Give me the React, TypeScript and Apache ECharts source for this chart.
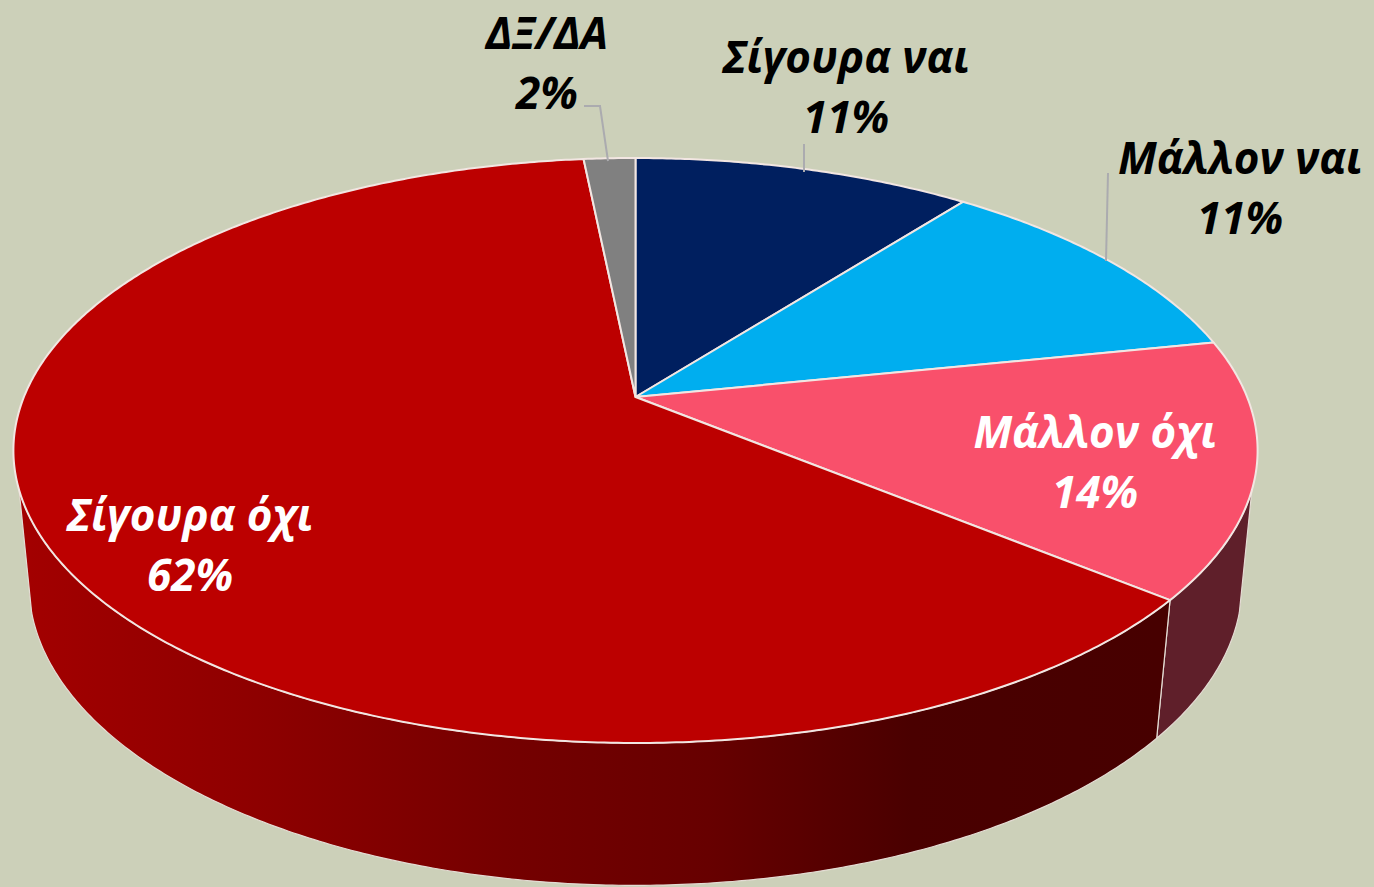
import React, { useEffect, useRef } from "react";
import * as echarts from "echarts";

const CATEGORIES = ["Σίγουρα ναι", "Μάλλον ναι", "Μάλλον όχι", "Σίγουρα όχι", "ΔΞ/ΔΑ"];
const VALUES = [10.5, 11.3, 14.15, 62.45, 1.6];
const TOP_COLORS = ["#001F5F", "#00AEEF", "#F9506B", "#BC0000", "#808080"];
const WALL_COLORS = ["#00103a", "#006f99", "#5F1F2A", "", "#4d4d4d"];
const LABEL_COLORS = ["#000000", "#000000", "#ffffff", "#ffffff", "#000000"];
const LABEL_POS = [[846, 86], [1240, 187], [1095, 461], [190, 544], [547, 62]];
const LEADERS = [
  [[804, 144], [804, 172]],
  [[1108, 173], [1106, 261]],
  [],
  [],
  [[584, 106], [600, 106], [608, 161]],
];

const W = 1374, H = 887;
const CX = 635.5, APEX_Y = 397, A = 611.6, B = 282.7, Q = 0.1829;
const WALL_SX = 0.975, WALL_SY = 1.03, WALL_Y0 = 529;
// Visible part of the side wall, as fractions of the turn
const WALL_TOP_RANGE = [0.3002, 0.6998];
const WALL_LOW_RANGE = [0.2939, 0.7061];

const total = VALUES.reduce((s, v) => s + v, 0);
const starts: number[] = [];
VALUES.reduce((s, v, i) => ((starts[i] = s), s + v), 0);

function project(frac: number): [number, number] {
  const t = frac * 2 * Math.PI;
  const u = Math.sin(t), v = Math.cos(t), w = 1 + Q * v;
  return [CX + (A * u) / w, APEX_Y - (B * v) / w];
}
function lower(p: [number, number]): [number, number] {
  return [CX + (p[0] - CX) * WALL_SX, WALL_Y0 + (p[1] - APEX_Y) * WALL_SY];
}
function arc(from: number, to: number): [number, number][] {
  const n = Math.max(2, Math.ceil((to - from) * 720));
  const out: [number, number][] = [];
  for (let i = 0; i <= n; i++) out.push(project(from + ((to - from) * i) / n));
  return out;
}

const redWall = new echarts.graphic.LinearGradient(
  30, 0, 1160, 0,
  [
    { offset: 0, color: "#A20000" },
    { offset: 0.2, color: "#8E0000" },
    { offset: 0.42, color: "#750000" },
    { offset: 0.6, color: "#670000" },
    { offset: 0.78, color: "#4A0000" },
    { offset: 1, color: "#470000" },
  ],
  true
);

export default function App() {
  const ref = useRef<HTMLDivElement>(null);
  useEffect(() => {
    document.body.style.margin = "0";
    const chart = echarts.init(ref.current!, undefined, { renderer: "svg" });
    const rows = VALUES.map((v) => [v]);
    chart.setOption({
      animation: false,
      backgroundColor: "#CCD0B9",
      series: [
        {
          type: "custom",
          coordinateSystem: "none",
          silent: true,
          z: 1,
          data: rows,
          renderItem: (params: any, api: any) => {
            const i = params.dataIndex;
            const f0 = starts[i] / total;
            const f1 = f0 + api.value(0) / total;
            if (f1 <= WALL_TOP_RANGE[0] || f0 >= WALL_TOP_RANGE[1]) return null;
            const top = arc(Math.max(f0, WALL_TOP_RANGE[0]), Math.min(f1, WALL_TOP_RANGE[1]));
            const low = arc(Math.max(f0, WALL_LOW_RANGE[0]), Math.min(f1, WALL_LOW_RANGE[1]));
            const points = [...top, ...low.reverse().map(lower)];
            return {
              type: "polygon",
              shape: { points },
              style: {
                fill: i === 3 ? redWall : WALL_COLORS[i],
                stroke: "#E4DCD4",
                lineWidth: 1.2,
              },
            };
          },
        },
        {
          type: "custom",
          coordinateSystem: "none",
          silent: true,
          z: 2,
          data: rows,
          renderItem: (params: any, api: any) => {
            const i = params.dataIndex;
            const f0 = starts[i] / total;
            const f1 = f0 + api.value(0) / total;
            return {
              type: "polygon",
              shape: { points: [[CX, APEX_Y], ...arc(f0, f1)] },
              style: { fill: TOP_COLORS[i], stroke: "#F2E6E2", lineWidth: 2, lineJoin: "round" },
            };
          },
        },
      ],
      graphic: [
        ...LEADERS.filter((l) => l.length).map((points) => ({
          type: "polyline",
          z: 100,
          silent: true,
          shape: { points },
          style: { fill: "none", stroke: "#ABABAF", lineWidth: 2 },
        })),
        ...CATEGORIES.map((name, i) => ({
          type: "text",
          z: 101,
          silent: true,
          x: LABEL_POS[i][0],
          y: LABEL_POS[i][1],
          style: {
            text: `${name}\n${Math.round(VALUES[i])}%`,
            fill: LABEL_COLORS[i],
            font: 'italic bold 44px "Open Sans"',
            lineHeight: 60,
            align: "center",
            verticalAlign: "middle",
          },
        })),
      ],
    });
    return () => chart.dispose();
  }, []);
  return <div ref={ref} style={{ width: W, height: H }} />;
}
